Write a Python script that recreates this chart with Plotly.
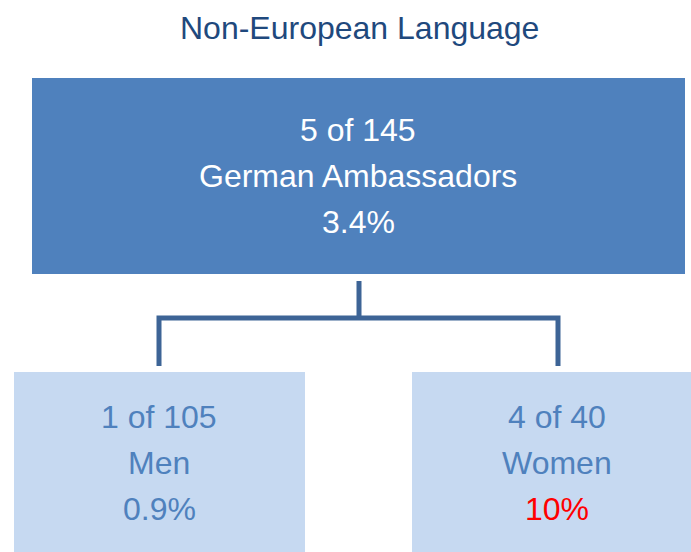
import plotly.graph_objects as go

# Data
title = "Non-European Language"
node_names = ["German Ambassadors", "Men", "Women"]
node_counts = [5, 1, 4]
node_totals = [145, 105, 40]
node_pcts = ["3.4%", "0.9%", "10%"]

W, H = 691, 552
DARK = "#4F81BD"
LIGHT = "#C6D9F1"
LINE = "#3D6496"
FONT = "Liberation Sans, Arial, sans-serif"

# Layout geometry (boxes in pixel-like axis units)
boxes = [
    dict(x0=32, x1=685, y0=78, y1=274, fill=DARK, text="white", pct="white", cx=358, cy=176),
    dict(x0=14, x1=305, y0=372, y1=552, fill=LIGHT, text=DARK, pct=DARK, cx=159, cy=463),
    dict(x0=412, x1=691, y0=372, y1=552, fill=LIGHT, text=DARK, pct="#FF0000", cx=557, cy=463),
]
line_offsets = [-46, 0, 46]

fig = go.Figure()
fig.add_trace(go.Scatter(x=[0, W], y=[0, H], mode="markers",
                         marker=dict(opacity=0), hoverinfo="skip", showlegend=False))

shapes = []
annotations = []
for b, name, c, t, p in zip(boxes, node_names, node_counts, node_totals, node_pcts):
    shapes.append(dict(type="rect", xref="x", yref="y", x0=b["x0"], x1=b["x1"],
                       y0=b["y0"], y1=b["y1"], fillcolor=b["fill"], line=dict(width=0),
                       layer="below"))
    texts = [f"{c} of {t}", name, p]
    colors = [b["text"], b["text"], b["pct"]]
    for txt, off, col in zip(texts, line_offsets, colors):
        annotations.append(dict(x=b["cx"], y=b["cy"] + off, xref="x", yref="y", text=txt,
                                showarrow=False, xanchor="center", yanchor="middle",
                                font=dict(family=FONT, size=32, color=col)))

# Connector lines
shapes.append(dict(type="path", xref="x", yref="y",
                   path="M 359 281 L 359 318 M 159 366 L 159 318 L 558 318 L 558 366",
                   line=dict(color=LINE, width=5)))

annotations.append(dict(x=359, y=28, xref="x", yref="y", text=title, showarrow=False,
                        xanchor="center", yanchor="middle",
                        font=dict(family=FONT, size=32, color="#1F497D")))

fig.update_layout(
    width=W, height=H,
    margin=dict(l=0, r=0, t=0, b=0),
    paper_bgcolor="white", plot_bgcolor="white",
    xaxis=dict(range=[0, W], visible=False, fixedrange=True),
    yaxis=dict(range=[H, 0], visible=False, fixedrange=True),
    shapes=shapes, annotations=annotations,
    showlegend=False,
)

fig.write_html("out.html", config={"displayModeBar": False},
               post_script="document.body.style.margin='0';document.body.style.overflow='hidden';")
